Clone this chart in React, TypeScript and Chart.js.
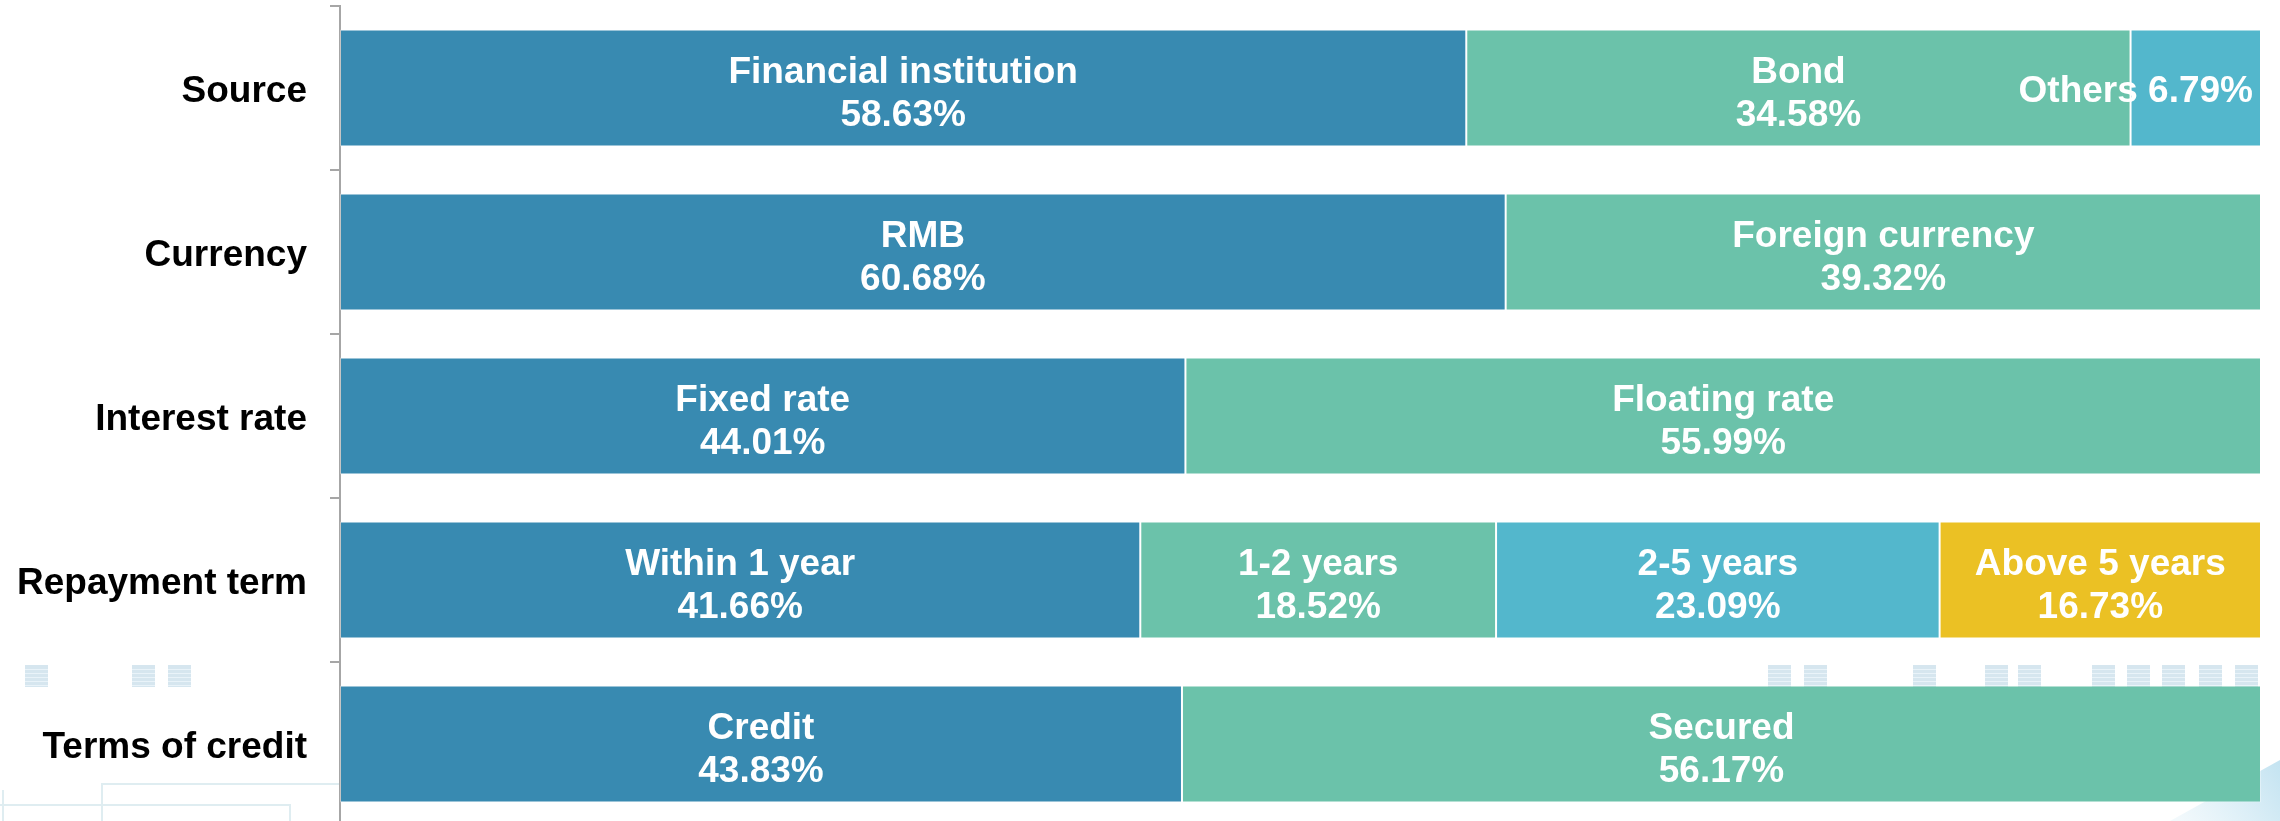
import React, { useEffect, useRef } from "react";
import { Chart, registerables } from "chart.js";

Chart.register(...registerables);

const categories = ["Source", "Currency", "Interest rate", "Repayment term", "Terms of credit"];

const seg1Names = ["Financial institution", "RMB", "Fixed rate", "Within 1 year", "Credit"];
const seg1Values = [58.63, 60.68, 44.01, 41.66, 43.83];

const seg2Names = ["Bond", "Foreign currency", "Floating rate", "1-2 years", "Secured"];
const seg2Values = [34.58, 39.32, 55.99, 18.52, 56.17];

const seg3Names = ["Others", null, null, "2-5 years", null];
const seg3Values = [6.79, null, null, 23.09, null];

const seg4Names = [null, null, null, "Above 5 years", null];
const seg4Values = [null, null, null, 16.73, null];

const segColors = ["#388AB1", "#6BC2AA", "#53B7CC", "#EBC124"];

const FONT = "'Liberation Sans', Arial, Helvetica, sans-serif";

const bgDecor = {
  id: "bgDecor",
  beforeDraw(chart: any) {
    const ctx = chart.ctx;
    ctx.save();
    ctx.fillStyle = "#ffffff";
    ctx.fillRect(0, 0, chart.width, chart.height);
    // faint watermark squares
    const xs = [25, 132, 168, 1768, 1804, 1913, 1985, 2018, 2092, 2127, 2162, 2199, 2235];
    for (const x of xs) {
      ctx.fillStyle = "rgba(200,222,234,0.75)";
      ctx.fillRect(x, 665, 23, 22);
      ctx.strokeStyle = "rgba(235,244,249,0.9)";
      ctx.lineWidth = 1;
      for (let k = 669; k < 687; k += 4) {
        ctx.beginPath();
        ctx.moveTo(x, k + 0.5);
        ctx.lineTo(x + 23, k + 0.5);
        ctx.stroke();
      }
    }
    // faint outline lines near bottom
    ctx.strokeStyle = "rgba(215,232,238,0.8)";
    ctx.lineWidth = 2;
    ctx.beginPath();
    ctx.moveTo(102, 821);
    ctx.lineTo(102, 784);
    ctx.lineTo(340, 784);
    ctx.moveTo(0, 805);
    ctx.lineTo(290, 805);
    ctx.lineTo(290, 821);
    ctx.moveTo(3, 790);
    ctx.lineTo(3, 821);
    ctx.stroke();
    // bottom right swoosh
    const g = ctx.createLinearGradient(2180, 821, 2280, 760);
    g.addColorStop(0, "rgba(190,225,240,0.2)");
    g.addColorStop(1, "rgba(170,215,235,0.7)");
    ctx.fillStyle = g;
    ctx.beginPath();
    ctx.moveTo(2170, 821);
    ctx.lineTo(2280, 760);
    ctx.lineTo(2280, 821);
    ctx.closePath();
    ctx.fill();
    ctx.restore();
  },
};

const segLabels = {
  id: "segLabels",
  afterDatasetsDraw(chart: any) {
    const ctx = chart.ctx;
    ctx.save();
    ctx.font = `bold 37px ${FONT}`;
    ctx.fillStyle = "#ffffff";
    chart.data.datasets.forEach((ds: any, di: number) => {
      const meta = chart.getDatasetMeta(di);
      meta.data.forEach((el: any, i: number) => {
        const v = ds.data[i];
        const name = ds.names[i];
        if (v == null || name == null) return;
        const { x, y, base } = el.getProps(["x", "y", "base"], true);
        const left = Math.min(x, base);
        const right = Math.max(x, base);
        const w = right - left;
        const pct = v.toFixed(2) + "%";
        const maxW = Math.max(ctx.measureText(name).width, ctx.measureText(pct).width);
        ctx.textBaseline = "alphabetic";
        if (maxW + 40 <= w) {
          ctx.textAlign = "center";
          const cx = (left + right) / 2;
          ctx.fillText(name, cx, y - 5.5);
          ctx.fillText(pct, cx, y + 37.5);
        } else {
          ctx.textAlign = "right";
          ctx.fillText(name + " " + pct, right - 8, y + 14);
        }
      });
    });
    ctx.restore();
  },
};

export default function App() {
  const ref = useRef<HTMLCanvasElement>(null);
  useEffect(() => {
    document.body.style.margin = "0";
    document.body.style.overflow = "hidden";
    const mk = (label: string, data: any[], names: any[], color: string) => ({
      label,
      data,
      names,
      backgroundColor: color,
      borderColor: "rgba(255,255,255,0.35)",
      borderWidth: 1,
      borderSkipped: false,
      categoryPercentage: 1,
      barPercentage: 0.713,
    });
    const chart = new Chart(ref.current!, {
      type: "bar",
      data: {
        labels: categories,
        datasets: [
          mk("Segment 1", seg1Values, seg1Names, segColors[0]),
          mk("Segment 2", seg2Values, seg2Names, segColors[1]),
          mk("Segment 3", seg3Values, seg3Names, segColors[2]),
          mk("Segment 4", seg4Values, seg4Names, segColors[3]),
        ] as any,
      },
      options: {
        indexAxis: "y",
        animation: false,
        responsive: false,
        maintainAspectRatio: false,
        layout: { padding: { top: 6, bottom: 1, left: 0, right: 19 } },
        plugins: {
          legend: { display: false },
          tooltip: { enabled: false },
        },
        scales: {
          x: {
            stacked: true,
            display: false,
            min: 0,
            max: 100,
          },
          y: {
            stacked: true,
            afterFit: (scale: any) => {
              scale.width = 340;
              scale.paddingTop = 0;
              scale.paddingBottom = 0;
            },
            ticks: {
              color: "#000000",
              font: { family: FONT, size: 37, weight: "bold" },
              padding: 23,
              labelOffset: 4,
            },
            grid: {
              drawOnChartArea: false,
              tickLength: 10,
              color: "#a6a6a6",
              lineWidth: 2,
            },
            border: { color: "#a6a6a6", width: 2 },
          },
        },
      } as any,
      plugins: [bgDecor, segLabels],
    });
    return () => chart.destroy();
  }, []);
  return (
    <div style={{ width: 2280, height: 821, overflow: "hidden", position: "relative", background: "#fff" }}>
      <canvas ref={ref} width={2280} height={827} style={{ display: "block", width: 2280, height: 827 }} />
    </div>
  );
}
